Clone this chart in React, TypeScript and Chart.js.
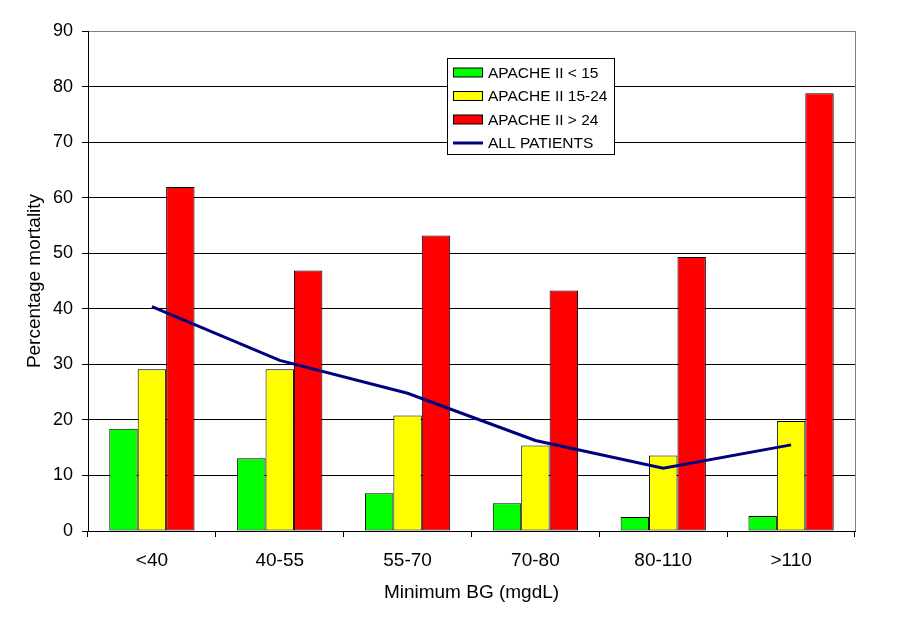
import React, { useEffect, useRef } from "react";
import { Chart, registerables } from "chart.js";

Chart.register(...registerables);

const categories = ["<40", "40-55", "55-70", "70-80", "80-110", ">110"];
const apacheLow = [18.4, 13.1, 6.8, 5.0, 2.5, 2.7];
const apacheMid = [29.1, 29.1, 20.8, 15.4, 13.6, 19.8];
const apacheHigh = [61.9, 46.9, 53.2, 43.3, 49.3, 78.8];
const allPatients = [40.4, 30.7, 24.8, 16.3, 11.3, 15.5];
const seriesLabels = ["APACHE II < 15", "APACHE II 15-24", "APACHE II > 24", "ALL PATIENTS"];
const yTicks = { min: 0, max: 90, step: 10 };

const FONT = "'Liberation Sans', Arial, sans-serif";

const framePlugin = {
  id: "frame",
  afterDatasetsDraw(chart: any) {
    const { ctx, chartArea } = chart;
    ctx.save();
    ctx.strokeStyle = "#808080";
    ctx.lineWidth = 1;
    ctx.beginPath();
    ctx.moveTo(Math.round(chartArea.right) + 0.5, chartArea.top);
    ctx.lineTo(Math.round(chartArea.right) + 0.5, chartArea.bottom);
    ctx.stroke();
    ctx.restore();
  },
  afterDraw(chart: any) {
    const { ctx } = chart;
    const ds = chart.data.datasets;
    const x0 = 447, y0 = 58, w = 167, h = 96;
    ctx.save();
    ctx.fillStyle = "#ffffff";
    ctx.fillRect(x0, y0, w, h);
    ctx.strokeStyle = "#000000";
    ctx.lineWidth = 1;
    ctx.strokeRect(x0 + 0.5, y0 + 0.5, w, h);
    const rows = [72.5, 96, 119.5, 143];
    ctx.font = `15.5px ${FONT}`;
    ctx.textBaseline = "middle";
    ctx.textAlign = "left";
    const order = [1, 2, 3, 0];
    order.forEach((di, i) => {
      const d = ds[di];
      const cy = rows[i];
      if (d.type === "line") {
        ctx.strokeStyle = d.borderColor;
        ctx.lineWidth = 3;
        ctx.beginPath();
        ctx.moveTo(453, cy);
        ctx.lineTo(483, cy);
        ctx.stroke();
      } else {
        ctx.fillStyle = d.backgroundColor;
        ctx.fillRect(453.5, cy - 4.5, 29, 9);
        ctx.strokeStyle = "#000";
        ctx.lineWidth = 1;
        ctx.strokeRect(453.5, cy - 4.5, 29, 9);
      }
      ctx.fillStyle = "#000";
      ctx.fillText(d.label, 488, cy + 1);
    });
    ctx.restore();
  },
};

export default function App() {
  const ref = useRef<HTMLCanvasElement | null>(null);
  useEffect(() => {
    if (!ref.current) return;
    const barBase = { borderColor: "#000000", borderWidth: 1, borderSkipped: false, order: 1 };
    const chart = new Chart(ref.current, {
      type: "bar",
      data: {
        labels: categories,
        datasets: [
          {
            type: "line",
            label: seriesLabels[3],
            data: allPatients,
            borderColor: "#000080",
            backgroundColor: "#000080",
            borderWidth: 3,
            pointRadius: 0,
            tension: 0,
            order: 0,
          } as any,
          { ...barBase, label: seriesLabels[0], data: apacheLow, backgroundColor: "#00ff00" },
          { ...barBase, label: seriesLabels[1], data: apacheMid, backgroundColor: "#ffff00" },
          { ...barBase, label: seriesLabels[2], data: apacheHigh, backgroundColor: "#ff0000" },
        ],
      },
      options: {
        animation: false,
        responsive: true,
        maintainAspectRatio: false,
        devicePixelRatio: 1,
        categoryPercentage: 0.667,
        barPercentage: 1.0,
        layout: { padding: { left: 0, right: 56, top: 31, bottom: 0 } },
        plugins: {
          legend: { display: false },
          tooltip: { enabled: false },
        },
        scales: {
          x: {
            grid: {
              display: true,
              drawOnChartArea: false,
              offset: true,
              tickLength: 6,
              tickColor: "#000000",
            },
            border: { display: true, color: "#000000", width: 1 },
            ticks: {
              color: "#000000",
              font: { family: FONT, size: 19 },
              padding: 12,
              maxRotation: 0,
            },
            title: {
              display: true,
              text: "Minimum BG (mgdL)",
              color: "#000000",
              font: { family: FONT, size: 19 },
              padding: { top: 0, bottom: 19 },
            },
            afterFit(scale: any) {
              scale.height = 92;
            },
          },
          y: {
            min: yTicks.min,
            max: yTicks.max,
            ticks: {
              stepSize: yTicks.step,
              color: "#000000",
              font: { family: FONT, size: 18 },
              padding: 9,
            },
            grid: {
              color: (c: any) => (c.tick && c.tick.value === yTicks.max ? "#808080" : "#000000"),
              tickColor: "#000000",
              tickLength: 6,
              lineWidth: 1,
            },
            border: { display: true, color: "#000000", width: 1 },
            title: {
              display: true,
              text: "Percentage mortality",
              color: "#000000",
              font: { family: FONT, size: 19 },
              padding: { top: 23, bottom: 0 },
            },
            afterFit(scale: any) {
              scale.width = 88;
            },
          },
        },
      } as any,
      plugins: [framePlugin],
    });
    return () => chart.destroy();
  }, []);
  return (
    <div style={{ position: "fixed", left: 0, top: 0, width: 911, height: 623, background: "#fff" }}>
      <canvas ref={ref} />
    </div>
  );
}
